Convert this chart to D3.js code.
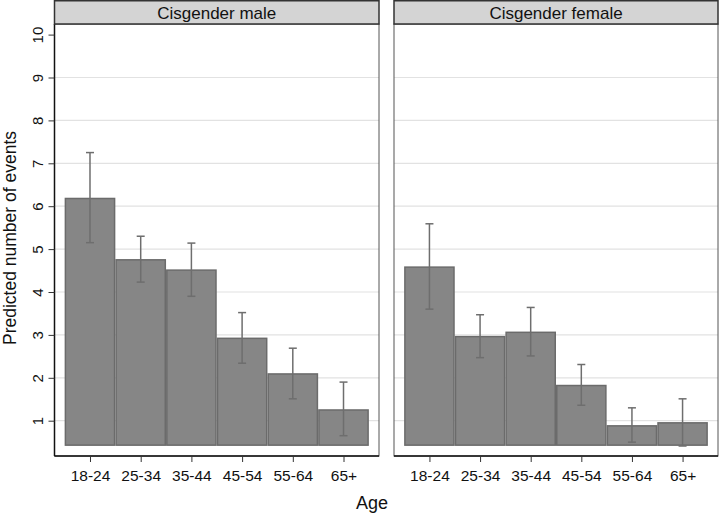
<!DOCTYPE html>
<html><head><meta charset="utf-8">
<script src="https://cdn.jsdelivr.net/npm/d3@7"></script>
<style>body{margin:0;background:#fff}svg{display:block}text{font-family:"Liberation Sans",Arial,sans-serif}</style>
</head><body><svg id="c" width="720" height="513"></svg>
<script>
const ageGroups = ["18-24","25-34","35-44","45-54","55-64","65+"];
const panels = ["Cisgender male","Cisgender female"];
const maleMean = [6.18,4.75,4.51,2.92,2.09,1.25];
const maleLo = [5.15,4.23,3.90,2.34,1.51,0.65];
const maleHi = [7.25,5.30,5.14,3.52,2.69,1.90];
const femaleMean = [4.58,2.96,3.06,1.82,0.88,0.95];
const femaleLo = [3.60,2.47,2.51,1.36,0.50,0.41];
const femaleHi = [5.59,3.47,3.64,2.31,1.30,1.51];
const yTicks = [1,2,3,4,5,6,7,8,9,10];
const barBase = 0.43;

const series = [
  {mean: maleMean, lo: maleLo, hi: maleHi},
  {mean: femaleMean, lo: femaleLo, hi: femaleHi}
];

const svg = d3.select("#c");
const y = d3.scaleLinear().domain([1,10]).range([420.7,34.6]);
const plotTop = 24, plotBottom = 456;
const panelX = [[54.5,379],[394,718]];

panels.forEach((name,pi)=>{
  const [x0,x1] = panelX[pi];
  const x = d3.scaleLinear().domain([0.3,6.7]).range([x0,x1]);
  const g = svg.append("g");
  g.selectAll("line.grid").data(yTicks.filter(d=>d<10)).join("line")
    .attr("x1",x0).attr("x2",x1).attr("y1",d=>y(d)).attr("y2",d=>y(d))
    .attr("stroke","#e2e2e2").attr("stroke-width",1.2);
  const s = series[pi];
  g.selectAll("rect.bar").data(ageGroups).join("rect")
    .attr("x",(d,i)=>x(i+0.5)+0.75).attr("width",(d,i)=>x(i+1.5)-x(i+0.5)-1.5)
    .attr("y",(d,i)=>y(s.mean[i])).attr("height",(d,i)=>y(barBase)-y(s.mean[i]))
    .attr("fill","#868686").attr("stroke","#6b6b6b").attr("stroke-width",1.5);
  const cap = 4;
  ageGroups.forEach((d,i)=>{
    const cx = x(i+1);
    g.append("line").attr("x1",cx).attr("x2",cx).attr("y1",y(s.lo[i])).attr("y2",y(s.hi[i]))
      .attr("stroke","#6e6e6e").attr("stroke-width",1.5);
    [s.lo[i],s.hi[i]].forEach(v=>{
      g.append("line").attr("x1",cx-cap).attr("x2",cx+cap).attr("y1",y(v)).attr("y2",y(v))
        .attr("stroke","#6e6e6e").attr("stroke-width",1.5);
    });
  });
  g.append("rect").attr("x",x0).attr("y",plotTop).attr("width",x1-x0).attr("height",plotBottom-plotTop)
    .attr("fill","none").attr("stroke","#555").attr("stroke-width",1);
  const xa = d3.axisBottom(x).tickValues([1,2,3,4,5,6]).tickFormat(d=>ageGroups[d-1]).tickSize(6).tickPadding(5);
  const ax = g.append("g").attr("transform",`translate(0,${plotBottom})`).call(xa);
  ax.select(".domain").attr("stroke","#111").attr("stroke-width",1.5).attr("d",`M${x0},0H${x1}`);
  ax.selectAll(".tick line").attr("stroke","#333");
  ax.selectAll(".tick text").attr("font-size",15.5).attr("fill","#111").attr("dy","0.9em");
  if(pi===0){
    const ya = d3.axisLeft(y).tickValues(yTicks).tickSize(6).tickPadding(0).tickFormat(d3.format("d"));
    const ay = g.append("g").attr("transform",`translate(${x0},0)`).call(ya);
    ay.select(".domain").attr("stroke","#111").attr("stroke-width",1.5).attr("d",`M0,${plotTop}V${plotBottom}`);
    ay.selectAll(".tick line").attr("stroke","#333");
    ay.selectAll(".tick text").attr("font-size",15).attr("fill","#111")
      .attr("x",0).attr("text-anchor","middle")
      .attr("transform","translate(-17,0) rotate(-90)").attr("dy","0.35em");
  }
  g.append("rect").attr("x",x0).attr("y",0.75).attr("width",x1-x0).attr("height",plotTop-0.75)
    .attr("fill","#d4d4d4").attr("stroke","#333").attr("stroke-width",1.5);
  g.append("text").attr("x",(x0+x1)/2).attr("y",13).attr("dy","0.35em").attr("text-anchor","middle")
    .attr("font-size",17).attr("fill","#111").text(name);
});

svg.append("text").attr("x",372).attr("y",509).attr("text-anchor","middle")
  .attr("font-size",18).attr("fill","#111").text("Age");
svg.append("text").attr("transform","translate(16,238) rotate(-90)").attr("text-anchor","middle")
  .attr("font-size",17.5).attr("fill","#111").text("Predicted number of events");
</script></body></html>
